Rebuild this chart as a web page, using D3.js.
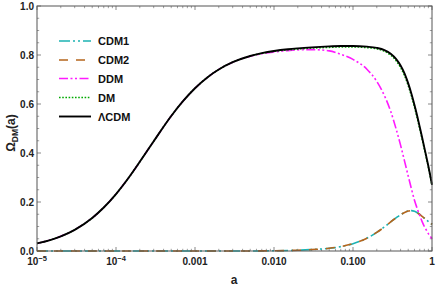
<!DOCTYPE html>
<html><head><meta charset="utf-8">
<script src="https://cdn.jsdelivr.net/npm/d3@7"></script>
<style>
body{margin:0;background:#fff;}
svg{display:block;font-family:"Liberation Sans",Arial,sans-serif;font-weight:bold;}
</style></head>
<body><svg id="c" width="436" height="289"></svg>
<script>
const aVals = [1e-5,1.5e-5,2e-5,3e-5,5e-5,7e-5,1e-4,1.5e-4,2e-4,3e-4,5e-4,7e-4,1e-3,1.5e-3,2e-3,3e-3,5e-3,7e-3,
  0.01,0.015,0.02,0.03,0.05,0.07,0.1,0.15,0.2,0.25,0.3,0.35,0.4,0.45,0.5,0.55,0.6,0.65,0.7,0.75,0.8,0.85,0.9,0.95,1];
const lcdm = [0.031,0.0456,0.0598,0.0865,0.135,0.1775,0.2324,0.306,0.364,0.448,0.551,0.6105,0.6645,0.7137,0.741,0.7706,0.796,0.8075,
  0.8165,0.8235,0.827,0.831,0.835,0.837,0.837,0.834,0.829,0.82,0.805,0.784,0.757,0.724,0.684,0.641,0.596,0.551,0.506,0.463,0.422,0.383,0.346,0.308,0.27];
const dm = [0.031,0.0456,0.0598,0.0865,0.135,0.1775,0.2324,0.306,0.364,0.448,0.551,0.6105,0.6645,0.7137,0.741,0.7706,0.796,0.8065,
  0.815,0.821,0.824,0.828,0.831,0.833,0.833,0.83,0.825,0.815,0.799,0.777,0.749,0.715,0.675,0.632,0.587,0.542,0.498,0.456,0.416,0.378,0.341,0.305,0.268];
const ddm = [0.031,0.0456,0.0598,0.0865,0.135,0.1775,0.2324,0.306,0.364,0.448,0.551,0.6105,0.6645,0.7137,0.741,0.7706,0.795,0.805,
  0.812,0.818,0.821,0.822,0.817,0.803,0.782,0.742,0.692,0.634,0.57,0.5,0.432,0.366,0.306,0.253,0.207,0.173,0.144,0.12,0.1,0.085,0.071,0.06,0.05];
const cdm1 = [0,0,0,0,0,0,0,0,0,0,0,0,0,0,0,0,0,0.0005,
  0.001,0.002,0.003,0.006,0.011,0.018,0.03,0.052,0.076,0.098,0.119,0.135,0.148,0.157,0.163,0.165,0.162,0.156,0.149,0.141,0.134,0.127,0.12,0.114,0.109];
const cdm2 = [0,0,0,0,0,0,0,0,0,0,0,0,0,0,0,0,0,0.0005,
  0.001,0.002,0.003,0.006,0.011,0.018,0.03,0.052,0.076,0.098,0.119,0.135,0.148,0.157,0.163,0.165,0.162,0.156,0.149,0.141,0.134,0.127,0.12,0.114,0.109];
const seriesNames = ["CDM1","CDM2","DDM","DM","\u039BCDM"];
const xTickVals = [1e-5,1e-4,1e-3,1e-2,1e-1,1];
const xTickLabels = [["10","\u22125"],["10","\u22124"],["0.001"],["0.010"],["0.100"],["1"]];
const yTickVals = [0,0.2,0.4,0.6,0.8,1.0];
const yTickLabels = ["0.0","0.2","0.4","0.6","0.8","1.0"];

const L=37,R=432,T=6,B=251;
const svg=d3.select("#c");
const x=d3.scaleLog().domain([1e-5,1]).range([L,R]);
const y=d3.scaleLinear().domain([0,1]).range([B,T]);

const styles=[
 {data:cdm1,color:"#1db3b3",dash:"11,3,2,3,2,3",w:1.6},
 {data:cdm2,color:"#b5651d",dash:"9,8",w:1.6},
 {data:ddm,color:"#ff1aff",dash:"9,2.5,2,2.5,2,2.5",w:1.6},
 {data:dm,color:"#00aa00",dash:"1.6,1.6",w:1.5},
 {data:lcdm,color:"#000",dash:null,w:1.9}
];

const tickCol="#888";
const g=svg.append("g");
const minorX=[];
for(let e=-5;e<0;e++){for(let k=2;k<=9;k++){minorX.push(k*Math.pow(10,e));}}
xTickVals.forEach(v=>{
  g.append("line").attr("x1",x(v)).attr("x2",x(v)).attr("y1",B).attr("y2",B-4).attr("stroke",tickCol);
  g.append("line").attr("x1",x(v)).attr("x2",x(v)).attr("y1",T).attr("y2",T+4).attr("stroke",tickCol);
});
minorX.forEach(v=>{
  g.append("line").attr("x1",x(v)).attr("x2",x(v)).attr("y1",B).attr("y2",B-2.2).attr("stroke",tickCol).attr("stroke-width",0.8);
  g.append("line").attr("x1",x(v)).attr("x2",x(v)).attr("y1",T).attr("y2",T+2.2).attr("stroke",tickCol).attr("stroke-width",0.8);
});
for(let i=0;i<=20;i++){
  const v=i*0.05, major=(i%4===0);
  const len=major?4:2.2;
  g.append("line").attr("x1",L).attr("x2",L+len).attr("y1",y(v)).attr("y2",y(v)).attr("stroke",tickCol).attr("stroke-width",major?1:0.8);
  g.append("line").attr("x1",R).attr("x2",R-len).attr("y1",y(v)).attr("y2",y(v)).attr("stroke",tickCol).attr("stroke-width",major?1:0.8);
}

const line=d3.line().x((d,i)=>x(aVals[i])).y(d=>y(d)).curve(d3.curveMonotoneX);
styles.forEach(s=>{
  const p=svg.append("path").attr("d",line(s.data)).attr("fill","none").attr("stroke",s.color).attr("stroke-width",s.w);
  if(s.dash)p.attr("stroke-dasharray",s.dash);
});

svg.append("rect").attr("x",L).attr("y",T).attr("width",R-L).attr("height",B-T).attr("fill","none").attr("stroke","#555").attr("stroke-width",1);

yTickVals.forEach((v,i)=>{
  svg.append("text").attr("x",L-3).attr("y",y(v)+3.5).attr("text-anchor","end").attr("font-size",10).attr("fill","#222").text(yTickLabels[i]);
});
xTickVals.forEach((v,i)=>{
  const t=svg.append("text").attr("x",x(v)).attr("y",265).attr("text-anchor","middle").attr("font-size",10).attr("fill","#222");
  const lab=xTickLabels[i];
  t.append("tspan").text(lab[0]);
  if(lab.length>1) t.append("tspan").attr("dy",-4).attr("font-size",7.5).text(lab[1]);
});

svg.append("text").attr("x",234).attr("y",284).attr("text-anchor","middle").attr("font-size",12).attr("fill","#222").text("a");
const yl=svg.append("text").attr("transform","translate(15,133) rotate(-90)").attr("text-anchor","middle").attr("font-size",12).attr("fill","#222");
yl.append("tspan").text("\u03A9");
yl.append("tspan").attr("dy",3).attr("font-size",8.5).text("DM");
yl.append("tspan").attr("dy",-3).text("(a)");

const legY=[41,60,78.5,97.5,116.5];
styles.forEach((s,i)=>{
  const l=svg.append("line").attr("x1",59).attr("x2",91).attr("y1",legY[i]).attr("y2",legY[i]).attr("stroke",s.color).attr("stroke-width",s.w);
  if(s.dash)l.attr("stroke-dasharray",s.dash);
  svg.append("text").attr("x",98).attr("y",legY[i]+4).attr("font-size",11).attr("fill","#111").text(seriesNames[i]);
});
</script></body></html>
